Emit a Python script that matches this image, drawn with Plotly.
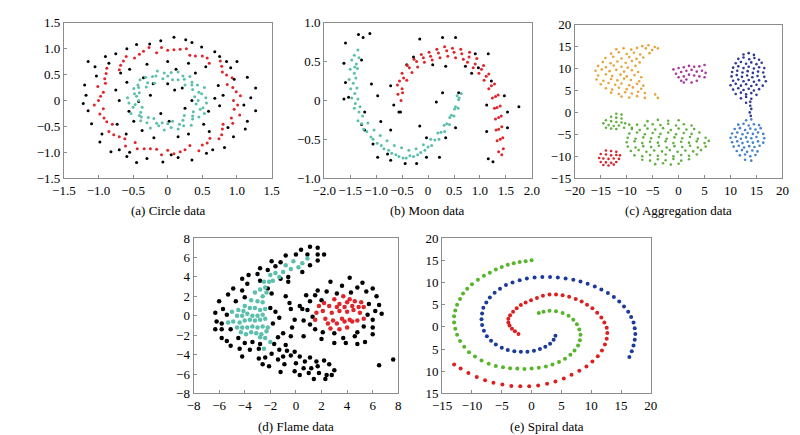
import plotly.graph_objects as go

# ---------------- (a) circle data ----------------
circle_inner = [
    (0.44, 0.00), (0.55, 0.05), (0.39, 0.07), (0.49, 0.13), (0.45, 0.16), (0.53, 0.25),
    (0.36, 0.21), (0.43, 0.30), (0.35, 0.30), (0.35, 0.35), (0.25, 0.30), (0.32, 0.46),
    (0.24, 0.41), (0.22, 0.47), (0.15, 0.40), (0.15, 0.55), (0.07, 0.40), (0.05, 0.54),
    (0.00, 0.47), (-0.05, 0.53), (-0.07, 0.42), (-0.15, 0.57), (-0.17, 0.47), (-0.22, 0.46),
    (-0.19, 0.33), (-0.32, 0.45), (-0.29, 0.34), (-0.40, 0.40), (-0.31, 0.26), (-0.43, 0.30),
    (-0.42, 0.25), (-0.49, 0.23), (-0.41, 0.15), (-0.48, 0.13), (-0.45, 0.08), (-0.58, 0.05),
    (-0.42, 0.00), (-0.56, -0.05), (-0.47, -0.08), (-0.50, -0.13), (-0.37, -0.13), (-0.53, -0.25),
    (-0.39, -0.23), (-0.41, -0.29), (-0.38, -0.32), (-0.39, -0.39), (-0.28, -0.33), (-0.30, -0.43),
    (-0.20, -0.35), (-0.25, -0.53), (-0.16, -0.44), (-0.13, -0.49), (-0.08, -0.43), (-0.05, -0.57),
    (0.00, -0.45), (0.05, -0.52), (0.07, -0.40), (0.15, -0.55), (0.17, -0.46), (0.23, -0.49),
    (0.22, -0.38), (0.34, -0.48), (0.24, -0.29), (0.36, -0.36), (0.36, -0.30), (0.45, -0.32),
    (0.37, -0.22), (0.53, -0.25), (0.47, -0.17), (0.51, -0.14), (0.41, -0.07), (0.56, -0.05),
]
circle_outer = [
    (0.95, 0.00), (1.05, 0.09), (0.99, 0.17), (0.94, 0.25), (0.86, 0.31), (0.93, 0.44),
    (0.85, 0.49), (0.79, 0.55), (0.78, 0.66), (0.76, 0.76), (0.60, 0.72), (0.57, 0.82),
    (0.50, 0.86), (0.40, 0.86), (0.32, 0.87), (0.27, 1.00), (0.18, 0.99), (0.09, 0.98),
    (0.00, 0.97), (-0.09, 1.02), (-0.16, 0.92), (-0.27, 1.02), (-0.35, 0.95), (-0.41, 0.89),
    (-0.48, 0.82), (-0.60, 0.85), (-0.64, 0.76), (-0.68, 0.68), (-0.70, 0.59), (-0.88, 0.62),
    (-0.89, 0.52), (-0.91, 0.42), (-0.90, 0.33), (-1.01, 0.27), (-0.93, 0.16), (-0.97, 0.08),
    (-1.00, 0.00), (-1.06, -0.09), (-0.93, -0.16), (-0.98, -0.26), (-0.92, -0.34), (-0.88, -0.41),
    (-0.80, -0.46), (-0.85, -0.60), (-0.78, -0.66), (-0.70, -0.70), (-0.62, -0.74), (-0.61, -0.88),
    (-0.47, -0.81), (-0.44, -0.93), (-0.34, -0.93), (-0.25, -0.93), (-0.16, -0.94), (-0.09, -1.05),
    (0.00, -0.96), (0.09, -1.03), (0.18, -0.99), (0.25, -0.95), (0.32, -0.87), (0.45, -0.97),
    (0.50, -0.86), (0.57, -0.82), (0.61, -0.73), (0.74, -0.74), (0.78, -0.66), (0.79, -0.55),
    (0.80, -0.46), (0.94, -0.44), (0.92, -0.34), (1.04, -0.28), (0.96, -0.17), (1.01, -0.09),
]
circle_noise = [
    (-1.15, 0.75), (-1.22, -0.06), (1.27, 0.24), (1.27, -0.20), (0.26, 1.17), (0.09, 1.22),
    (-0.98, -0.80), (-0.82, -0.99), (-0.45, -1.20), (-0.07, -1.19), (0.82, -0.91), (0.91, 0.63),
    (1.15, -0.40), (-1.15, -0.20), (-1.03, 0.47), (-0.59, 1.00), (-0.26, 1.09), (0.49, 1.03),
    (0.68, 0.94), (-0.59, -1.08), (0.56, -1.02), (1.10, -0.09), (-0.21, 0.32), (0.00, 0.32),
    (0.21, 0.24), (-0.42, -0.02), (-0.56, -0.21), (-0.59, 0.35), (-0.35, 0.44), (0.68, 0.04),
    (0.59, -0.21), (0.73, 0.29), (-0.37, -0.58), (0.30, -0.65), (0.02, -0.40), (-0.49, -0.40),
    (0.52, -0.46), (0.12, 0.60), (0.40, 0.53), (-0.73, -0.46), (-0.68, 0.53), (0.87, -0.52),
    (0.96, 0.41), (-0.90, 0.85), (-1.05, 0.65), (-1.20, 0.30), (-1.10, -0.45), (-0.95, -0.65),
    (-0.70, -0.95), (-0.30, -1.12), (0.15, -1.10), (0.35, -1.15), (0.65, -0.95), (0.95, -0.70),
    (1.12, -0.55), (1.20, 0.05), (1.15, 0.45), (1.00, 0.75), (0.75, 0.85), (0.35, 1.12),
    (-0.10, 1.15), (-0.45, 1.08), (-0.75, 0.90), (-1.18, 0.10), (-0.85, 0.72), (0.85, 0.75),
    (-0.55, -1.00), (0.05, -1.05), (-0.70, 0.00), (-0.75, 0.20), (0.75, -0.10), (0.80, 0.10),
    (-0.30, 0.70), (0.30, 0.72), (0.00, 0.75), (-0.20, -0.72), (0.15, -0.70), (0.55, 0.65),
    (-0.55, 0.60), (0.60, -0.60), (-0.60, -0.65), (0.10, 0.20), (-0.10, -0.25), (0.25, -0.15),
    (-0.25, 0.10), (0.35, 0.00),
]

# ---------------- (b) moon data ----------------
moon_lower = [
    (-1.35, 0.65), (-1.42, 0.58), (-1.33, 0.55), (-1.47, 0.52), (-1.38, 0.47), (-1.41, 0.43),
    (-1.50, 0.40), (-1.42, 0.35), (-1.36, 0.41), (-1.52, 0.27), (-1.44, 0.22), (-1.39, 0.29),
    (-1.49, 0.15), (-1.41, 0.09), (-1.37, 0.16), (-1.47, 0.03), (-1.40, -0.04), (-1.35, 0.02),
    (-1.42, -0.10), (-1.33, -0.15), (-1.31, -0.08), (-1.35, -0.26), (-1.26, -0.20), (-1.28, -0.30),
    (-1.24, -0.37), (-1.16, -0.29), (-1.18, -0.40), (-1.10, -0.47), (-1.04, -0.38), (-1.06, -0.50),
    (-0.98, -0.55), (-0.92, -0.45), (-0.90, -0.58), (-0.85, -0.62), (-0.79, -0.52), (-0.76, -0.64),
    (-0.70, -0.68), (-0.65, -0.58), (-0.62, -0.70), (-0.56, -0.72), (-0.51, -0.61), (-0.48, -0.74),
    (-0.42, -0.74), (-0.37, -0.64), (-0.35, -0.71), (-0.28, -0.72), (-0.23, -0.62), (-0.20, -0.70),
    (-0.14, -0.67), (-0.09, -0.57), (-0.06, -0.64), (0.00, -0.60), (0.05, -0.50), (0.07, -0.58),
    (0.13, -0.51), (0.19, -0.42), (0.21, -0.50), (0.25, -0.41), (0.31, -0.32), (0.32, -0.40),
    (0.36, -0.30), (0.42, -0.22), (0.41, -0.31), (0.45, -0.19), (0.51, -0.11), (0.50, -0.20),
    (0.53, -0.08), (0.59, 0.01), (0.58, -0.10), (0.60, 0.03), (0.64, 0.09), (0.56, 0.06),
]
moon_upper = [
    (-0.52, 0.00), (-0.58, 0.08), (-0.49, 0.10), (-0.59, 0.20), (-0.50, 0.15), (-0.55, 0.25),
    (-0.50, 0.35), (-0.41, 0.26), (-0.47, 0.29), (-0.40, 0.45), (-0.31, 0.36), (-0.36, 0.42),
    (-0.27, 0.53), (-0.20, 0.43), (-0.22, 0.50), (-0.13, 0.59), (-0.07, 0.49), (-0.09, 0.55),
    (0.02, 0.62), (0.08, 0.52), (0.05, 0.57), (0.17, 0.66), (0.23, 0.55), (0.20, 0.61),
    (0.32, 0.69), (0.38, 0.57), (0.36, 0.64), (0.47, 0.67), (0.53, 0.55), (0.50, 0.62),
    (0.63, 0.66), (0.68, 0.53), (0.65, 0.60), (0.80, 0.62), (0.76, 0.49), (0.79, 0.56),
    (0.94, 0.54), (0.87, 0.42), (0.91, 0.47), (1.07, 0.45), (0.98, 0.35), (1.03, 0.40),
    (1.17, 0.34), (1.08, 0.26), (1.12, 0.31), (1.28, 0.21), (1.17, 0.15), (1.22, 0.19),
    (1.35, 0.07), (1.24, 0.03), (1.30, 0.05), (1.39, -0.07), (1.28, -0.10), (1.33, -0.09),
    (1.41, -0.20), (1.30, -0.24), (1.36, -0.22), (1.42, -0.34), (1.31, -0.38), (1.36, -0.37),
    (1.44, -0.48), (1.33, -0.52), (1.39, -0.50), (1.45, -0.62), (1.36, -0.66), (1.42, -0.70),
]
moon_noise = [
    (-1.59, 0.74), (-1.34, 0.85), (-1.12, 0.86), (-1.25, 0.81), (-1.62, 0.48), (-1.59, 0.23),
    (-1.62, 0.02), (-1.53, 0.04), (-1.28, -0.31), (-1.22, -0.38), (-1.09, 0.21), (-0.97, 0.06),
    (-0.91, -0.27), (-0.72, -0.38), (-0.97, -0.73), (-0.72, -0.77), (-0.44, -0.81), (-0.22, -0.81),
    (-0.03, -0.73), (0.22, -0.73), (0.34, -0.48), (0.53, -0.35), (0.59, 0.10), (0.28, 0.10),
    (0.16, -0.02), (-0.72, 0.19), (-0.66, -0.06), (-0.53, -0.15), (-0.41, 0.46), (-0.28, 0.56),
    (-0.16, 0.79), (0.28, 0.81), (0.53, 0.81), (0.91, 0.60), (1.16, 0.60), (0.97, 0.42),
    (0.84, 0.35), (0.34, 0.44), (1.22, 0.25), (1.47, 0.06), (1.13, -0.06), (1.53, -0.15),
    (1.53, -0.35), (1.13, -0.40), (1.16, -0.75), (1.25, -0.79), (1.75, -0.08), (0.72, 0.44),
    (0.09, 0.46), (-0.56, -0.15), (-0.16, -0.33), (-0.03, -0.48), (-1.22, -0.15), (-1.28, 0.52),
    (-1.06, -0.56), (-0.78, -0.69),
]

# ---------------- (c) aggregation data ----------------
agg_orange = [
    (-7.0, 15.1), (-5.8, 15.3), (-4.6, 14.9), (-6.3, 14.6),
    (-12.0, 14.4), (-10.6, 14.6), (-9.1, 14.3), (-8.0, 14.7), (-5.1, 14.2), (-4.0, 14.6),
    (-13.0, 13.4), (-11.5, 13.7), (-10.0, 13.3), (-8.6, 13.6), (-7.4, 13.2), (-5.6, 13.5),
    (-14.1, 12.4), (-12.6, 12.7), (-11.0, 12.3), (-9.5, 12.6), (-8.1, 12.2), (-6.8, 12.5),
    (-14.6, 11.5), (-13.1, 11.2), (-11.8, 11.6), (-10.2, 11.3), (-9.0, 11.7), (-7.5, 11.4),
    (-15.5, 10.6), (-14.0, 10.3), (-12.5, 10.7), (-11.0, 10.4), (-9.8, 10.2), (-8.3, 10.6),
    (-16.0, 9.5), (-14.8, 9.8), (-13.3, 9.4), (-12.0, 9.7), (-10.5, 9.3), (-9.0, 9.6), (-7.8, 9.2),
    (-15.5, 8.4), (-14.0, 8.7), (-12.8, 8.3), (-11.2, 8.6), (-10.0, 8.2), (-8.5, 8.5), (-7.2, 8.0),
    (-15.8, 7.5), (-14.5, 7.2), (-13.0, 7.6), (-11.8, 7.3), (-10.5, 7.7), (-9.2, 7.4), (-7.6, 7.1),
    (-15.0, 6.4), (-13.5, 6.7), (-12.2, 6.3), (-11.0, 6.6), (-9.5, 6.2), (-8.0, 6.5), (-6.8, 6.1),
    (-14.0, 5.5), (-12.8, 5.2), (-11.5, 5.6), (-10.0, 5.3), (-8.8, 5.7), (-7.2, 5.4),
    (-13.0, 4.5), (-11.5, 4.2), (-10.3, 4.6), (-9.0, 4.3), (-7.8, 4.7), (-6.5, 4.4), (-4.5, 4.1),
    (-11.0, 3.6), (-9.5, 3.4), (-8.0, 3.7), (-6.5, 3.3), (-4.0, 3.3),
]
agg_purple = [
    (-1.0, 9.8), (0.0, 10.1), (1.0, 10.3), (2.0, 10.6), (3.0, 10.4), (4.0, 10.5), (5.0, 10.8),
    (-0.5, 8.8), (0.5, 9.2), (1.5, 9.5), (2.5, 9.7), (3.5, 9.3), (4.5, 9.5), (5.2, 9.0),
    (0.0, 8.0), (1.0, 8.2), (2.0, 8.6), (3.0, 8.4), (4.0, 8.2), (5.0, 8.0),
    (0.5, 7.2), (1.5, 7.5), (2.5, 6.8), (3.5, 7.2), (1.0, 6.8),
]
agg_navy = [
    (12.5, 13.2), (13.5, 13.5), (14.5, 13.1),
    (11.5, 12.2), (12.5, 12.5), (13.6, 12.1), (14.6, 12.4), (15.5, 12.0),
    (11.0, 11.2), (12.0, 11.5), (13.0, 11.1), (14.0, 11.4), (15.0, 11.0), (16.0, 11.3),
    (10.5, 10.2), (11.5, 10.5), (12.5, 10.1), (13.5, 10.4), (14.5, 10.0), (15.5, 10.3), (16.5, 10.1),
    (10.3, 9.2), (11.3, 9.5), (12.3, 9.1), (13.3, 9.4), (14.3, 9.0), (15.3, 9.3), (16.3, 9.1),
    (10.2, 8.2), (11.2, 8.5), (12.2, 8.1), (13.2, 8.4), (14.2, 8.0), (15.2, 8.3), (16.5, 8.1),
    (10.5, 7.2), (11.5, 7.5), (12.5, 7.1), (13.5, 7.4), (14.5, 7.0), (15.5, 7.3), (16.8, 7.1),
    (10.0, 6.2), (11.0, 6.5), (12.0, 6.1), (13.0, 6.4), (14.0, 6.0), (15.0, 6.3), (16.2, 6.1),
    (10.5, 5.2), (11.5, 5.5), (12.5, 5.1), (13.5, 5.4), (14.5, 5.0), (15.5, 5.3),
    (11.0, 4.2), (12.0, 4.5), (13.0, 4.1), (14.0, 4.4), (15.0, 4.0),
    (12.0, 3.2), (13.0, 3.5), (14.0, 3.1), (13.0, 2.2), (13.8, 2.4),
    (13.8, 1.5), (14.0, 0.8), (13.7, 0.0), (13.9, -0.8),
]
agg_lightblue = [
    (13.0, -1.8), (14.0, -1.6),
    (11.5, -2.8), (12.5, -2.6), (13.5, -3.0), (14.5, -2.7), (15.5, -2.9),
    (10.8, -3.8), (11.8, -3.6), (12.8, -4.0), (13.8, -3.7), (14.8, -3.9), (15.8, -3.6),
    (10.3, -4.8), (11.3, -4.6), (12.3, -5.0), (13.3, -4.7), (14.3, -4.9), (15.3, -4.6), (16.3, -4.9),
    (10.0, -5.8), (11.0, -5.6), (12.0, -6.0), (13.0, -5.7), (14.0, -5.9), (15.0, -5.6), (16.5, -5.9),
    (10.3, -6.8), (11.3, -6.6), (12.3, -7.0), (13.3, -6.7), (14.3, -6.9), (15.3, -6.6), (16.3, -6.9),
    (10.6, -7.8), (11.6, -7.6), (12.6, -8.0), (13.6, -7.7), (14.6, -7.9), (15.6, -7.6),
    (11.2, -8.8), (12.2, -8.6), (13.2, -9.0), (14.2, -8.7), (15.2, -8.9),
    (11.8, -9.8), (12.8, -9.6), (13.8, -10.0), (14.8, -9.7),
    (12.8, -10.8), (14.0, -11.0),
]
agg_green_small = [
    (-12.0, -0.3), (-11.0, -0.5), (-13.0, -1.0), (-12.0, -1.2), (-11.0, -1.4), (-14.0, -1.8),
    (-13.0, -2.0), (-12.0, -2.2), (-11.0, -2.3), (-10.3, -2.5), (-14.5, -2.5), (-13.5, -2.9),
    (-12.5, -3.1), (-11.5, -3.0), (-13.0, -3.7), (-12.0, -3.8), (-14.0, -3.5), (-10.5, -3.5),
    (-9.5, -2.8), (-9.0, -3.5),
]
agg_green_big = [
    (-4.0, -1.7), (-2.0, -1.9), (0.0, -1.8), (-6.0, -2.0),
    (-8.0, -2.8), (-6.5, -3.0), (-5.0, -2.7), (-3.5, -2.9), (-2.0, -2.6), (-0.5, -3.0), (1.0, -2.7), (2.5, -3.0),
    (-9.0, -3.8), (-7.5, -4.0), (-6.0, -3.7), (-4.5, -3.9), (-3.0, -3.6), (-1.5, -4.0), (0.0, -3.7), (1.5, -3.9), (3.0, -3.8),
    (-9.5, -4.8), (-8.0, -4.6), (-6.5, -5.0), (-5.0, -4.7), (-3.5, -4.9), (-2.0, -4.6), (-0.5, -5.0), (1.0, -4.7), (2.5, -4.9), (4.0, -4.6),
    (-9.8, -5.8), (-8.3, -6.0), (-6.8, -5.7), (-5.3, -5.9), (-3.8, -5.6), (-2.3, -6.0), (-0.8, -5.7), (0.7, -5.9), (2.2, -5.6), (3.7, -6.0), (5.2, -5.8),
    (-10.0, -6.8), (-8.5, -6.6), (-7.0, -7.0), (-5.5, -6.7), (-4.0, -6.9), (-2.5, -6.6), (-1.0, -7.0), (0.5, -6.7), (2.0, -6.9), (3.5, -6.6), (5.0, -7.0), (5.8, -6.5),
    (-9.8, -7.8), (-8.3, -8.0), (-6.8, -7.7), (-5.3, -7.9), (-3.8, -7.6), (-2.3, -8.0), (-0.8, -7.7), (0.7, -7.9), (2.2, -7.6), (3.7, -8.0), (5.2, -7.8),
    (-9.2, -8.8), (-7.7, -8.6), (-6.2, -9.0), (-4.7, -8.7), (-3.2, -8.9), (-1.7, -8.6), (-0.2, -9.0), (1.3, -8.7), (2.8, -8.9), (4.3, -8.6),
    (-8.5, -9.8), (-7.0, -10.0), (-5.5, -9.7), (-4.0, -9.9), (-2.5, -9.6), (-1.0, -10.0), (0.5, -9.7), (2.0, -9.9), (3.5, -9.6),
    (-7.0, -10.8), (-5.5, -11.0), (-4.0, -10.7), (-2.5, -10.9), (-1.0, -10.6), (0.5, -11.0), (2.0, -10.7),
    (-4.5, -11.8), (-3.0, -11.6), (-1.5, -11.9), (0.0, -11.7),
]
agg_red = [
    (-14.0, -8.7), (-13.0, -8.8), (-12.0, -9.0), (-15.0, -9.5), (-14.0, -9.6), (-13.0, -9.8),
    (-12.0, -9.7), (-11.3, -9.8), (-15.3, -10.4), (-14.5, -10.5), (-13.5, -10.6), (-12.5, -10.5),
    (-11.5, -10.6), (-15.0, -11.3), (-14.0, -11.4), (-13.0, -11.5), (-12.0, -11.3), (-14.5, -12.0),
    (-13.5, -12.1), (-12.5, -11.9),
]

# ---------------- (d) flame data ----------------
flame_teal = [
    (0.9, 5.9), (0.5, 5.4), (0.2, 5.0), (-0.2, 5.6), (-0.4, 4.8), (-0.8, 5.2), (-1.0, 4.5),
    (-1.3, 4.0), (-1.6, 4.4), (-2.0, 4.2), (-1.8, 3.6), (-2.1, 3.5), (-2.5, 3.5), (-2.4, 2.9),
    (-2.8, 2.7), (-2.3, 2.4), (-2.6, 2.0), (-3.2, 2.4), (-3.5, 1.6), (-3.0, 1.5), (-2.6, 1.4),
    (-4.0, 1.0), (-3.6, 0.8), (-3.2, 0.8), (-2.8, 0.6), (-2.4, 0.7), (-4.5, 0.6), (-4.1, 0.5),
    (-5.0, 0.4), (-4.6, 0.0), (-4.2, 0.0), (-3.8, 0.2), (-3.4, 0.0), (-3.0, 0.0), (-2.6, 0.1),
    (-5.3, -0.7), (-4.9, -0.6), (-4.4, -0.7), (-4.0, -0.5), (-3.6, -0.4), (-3.2, -0.5),
    (-2.8, -0.4), (-2.4, -0.3), (-4.6, -1.2), (-4.2, -1.2), (-3.8, -1.2), (-3.4, -1.1),
    (-3.0, -1.2), (-2.6, -1.1), (-2.2, -1.2), (-4.3, -1.7), (-3.9, -1.9), (-3.5, -1.7),
    (-3.1, -1.8), (-2.7, -1.9), (-2.3, -1.6), (-2.8, -2.2), (-2.4, -2.3), (-2.0, -2.7), (-2.5, -3.4),
]
flame_red = [
    (3.7, 2.0), (4.2, 1.7), (3.0, 1.7), (2.2, 1.3), (3.4, 1.2), (4.0, 1.4), (4.6, 1.5), (5.1, 1.4),
    (1.8, 1.0), (2.6, 1.0), (3.2, 0.9), (3.8, 0.9), (4.4, 1.0), (4.9, 0.9), (5.3, 0.9), (2.1, 0.5),
    (2.8, 0.3), (3.4, 0.5), (4.0, 0.4), (4.5, 0.6), (5.0, 0.3), (1.6, 0.3), (1.5, -0.4), (2.3, -0.3),
    (2.9, -0.5), (3.6, -0.3), (4.2, -0.4), (4.8, -0.5), (5.3, -0.3), (2.5, -0.8), (3.2, -0.8),
    (3.8, -0.6), (4.4, -0.6), (2.7, -1.3), (3.4, -1.4), (4.0, -1.2),
]
flame_noise = [
    (1.1, 7.1), (1.7, 7.0), (0.4, 6.8), (0.9, 6.3), (1.7, 6.3), (2.2, 6.3), (0.0, 6.3), (-0.8, 6.2),
    (1.7, 5.7), (-1.9, 5.6), (-1.2, 5.5), (1.1, 5.2), (-1.6, 5.1), (-2.8, 4.9), (-2.2, 4.7),
    (0.5, 4.5), (-3.0, 4.3), (-3.7, 4.2), (-1.2, 3.8), (-0.6, 4.0), (-4.2, 3.8), (-3.8, 3.3),
    (-2.8, 3.6), (-0.6, 3.5), (-4.9, 2.8), (-4.2, 2.6), (-2.2, 2.8), (-1.9, 2.3), (-5.3, 2.2),
    (-4.0, 1.9), (-0.8, 2.0), (0.8, 2.1), (-6.0, 1.5), (-4.7, 1.5), (-0.5, 1.3), (0.3, 1.0),
    (1.1, 1.5), (-5.7, 0.7), (-6.3, 0.3), (-5.4, 0.1), (-2.0, 0.8), (-1.6, 0.4), (-0.4, 0.7),
    (0.5, 0.7), (0.9, 0.6), (-6.2, -0.6), (-5.8, -0.8), (-1.3, -0.2), (-0.1, -0.4), (0.6, -0.5),
    (1.1, -0.9), (-6.3, -1.4), (-5.8, -1.4), (-5.1, -1.4), (-1.8, -0.8), (-0.3, -1.2), (-1.0, -1.8),
    (0.6, -2.1), (-0.4, -2.1), (-5.8, -2.3), (-5.4, -2.6), (-4.5, -2.3), (-1.4, -2.2), (-5.1, -3.1),
    (-4.0, -2.8), (-3.4, -2.7), (-2.8, -2.9), (-1.7, -2.9), (-0.8, -3.0), (-4.4, -3.4), (-3.6, -3.5),
    (-2.9, -3.4), (-1.3, -3.5), (-0.7, -3.6), (-0.1, -3.7), (-1.9, -3.9), (-1.0, -4.2), (-0.4, -4.1),
    (-4.2, -4.2), (-2.9, -4.4), (-2.4, -4.3), (-1.4, -4.5), (0.3, -4.2), (1.1, -4.3), (-2.6, -5.0),
    (-2.1, -5.2), (-0.9, -5.0), (0.0, -4.9), (0.7, -4.7), (1.6, -4.7), (2.2, -4.6), (-1.2, -5.8),
    (-0.1, -5.7), (0.6, -5.4), (1.2, -5.4), (1.7, -5.2), (2.6, -5.0), (0.3, -6.1), (1.0, -5.9),
    (1.8, -5.9), (2.4, -6.1), (3.0, -5.6), (2.8, -6.1), (1.4, -6.5), (2.3, -6.5),
    (4.2, 3.9), (5.2, 3.4), (2.7, 3.5), (3.6, 3.1), (4.8, 2.9), (6.0, 2.8), (1.7, 2.6), (2.4, 2.5),
    (4.3, 2.4), (5.5, 2.5), (3.2, 2.3), (1.5, 2.1), (6.3, 2.0), (2.0, 1.6), (5.7, 1.2), (6.5, 1.1),
    (6.2, 0.5), (5.6, 0.1), (6.7, 0.2), (1.3, -0.1), (6.0, -0.4), (1.5, -1.4), (2.1, -1.7),
    (5.3, -1.1), (6.0, -1.2), (3.0, -1.8), (4.8, -1.7), (3.7, -2.3), (4.6, -2.1), (6.0, -1.9),
    (2.0, -2.4), (3.0, -2.8), (3.9, -2.8), (4.8, -2.9), (5.4, -2.7), (6.5, -5.1), (7.6, -4.5),
]

# ---------------- (e) spiral data ----------------
spiral_green = [
    (0.0, 15.0), (-1.0, 14.8), (-2.0, 14.6), (-3.0, 14.3), (-4.0, 14.0), (-5.0, 13.5), (-6.0, 12.9),
    (-7.0, 12.2), (-8.0, 11.5), (-9.0, 10.6), (-10.0, 9.6), (-10.8, 8.6), (-11.5, 7.5), (-12.0, 6.3),
    (-12.5, 5.0), (-12.8, 3.7), (-13.0, 2.4), (-13.0, 1.0), (-12.8, -0.4), (-12.5, -1.8),
    (-12.0, -3.2), (-11.3, -4.5), (-10.5, -5.7), (-9.5, -6.7), (-8.4, -7.6), (-7.2, -8.3),
    (-6.0, -8.8), (-4.8, -9.1), (-3.6, -9.3), (-2.4, -9.4), (-1.2, -9.5), (0.0, -9.4), (1.2, -9.2),
    (2.4, -8.9), (3.5, -8.5), (4.6, -7.9), (5.6, -7.2), (6.5, -6.3), (7.2, -5.3), (7.8, -4.2),
    (8.1, -3.0), (8.2, -1.8), (8.0, -0.6), (7.6, 0.6), (7.0, 1.6), (6.2, 2.5), (5.2, 3.1),
    (4.1, 3.5), (3.0, 3.6), (2.0, 3.4), (1.2, 3.1),
]
spiral_blue = [
    (16.4, -6.8), (16.8, -5.5), (17.1, -4.2), (17.3, -2.9), (17.4, -1.6), (17.3, -0.3), (17.1, 1.0),
    (16.7, 2.2), (16.2, 3.4), (15.5, 4.6), (14.7, 5.7), (13.8, 6.7), (12.8, 7.6), (11.7, 8.4),
    (10.6, 9.1), (9.4, 9.7), (8.2, 10.2), (7.0, 10.6), (5.7, 10.9), (4.4, 11.1), (3.1, 11.2),
    (1.8, 11.2), (0.5, 11.1), (-0.8, 10.9), (-2.0, 10.5), (-3.2, 10.0), (-4.3, 9.4), (-5.3, 8.6),
    (-6.2, 7.7), (-7.0, 6.6), (-7.6, 5.5), (-8.1, 4.3), (-8.3, 3.0), (-8.4, 1.7), (-8.3, 0.4),
    (-8.0, -0.9), (-7.5, -2.1), (-6.8, -3.1), (-6.0, -4.0), (-5.0, -4.7), (-4.0, -5.2), (-2.9, -5.5),
    (-1.8, -5.6), (-0.7, -5.6), (0.4, -5.4), (1.4, -5.0), (2.3, -4.5), (3.1, -3.8), (3.7, -2.9),
    (4.0, -2.0),
]
spiral_red = [
    (-2.2, -1.6), (-2.8, -1.0), (-3.3, -0.4), (-3.7, 0.3), (-3.9, 1.0), (-3.9, 1.8), (-3.6, 2.6),
    (-3.1, 3.4), (-2.5, 4.2), (-1.8, 4.9), (-1.0, 5.5), (-0.1, 6.0), (0.9, 6.5), (1.9, 7.0),
    (3.0, 7.3), (4.1, 7.3), (5.2, 7.1), (6.3, 6.8), (7.4, 6.3), (8.4, 5.7), (9.3, 5.0), (10.2, 4.2),
    (11.0, 3.2), (11.7, 2.1), (12.2, 1.0), (12.6, -0.2), (12.7, -1.4), (12.6, -2.7), (12.3, -4.0),
    (11.8, -5.3), (11.1, -6.6), (10.2, -7.8), (9.2, -8.9), (8.0, -9.9), (6.7, -10.8), (5.4, -11.6),
    (4.0, -12.3), (2.6, -12.8), (1.1, -13.2), (-0.4, -13.4), (-1.9, -13.4), (-3.4, -13.3),
    (-4.9, -13.0), (-6.4, -12.6), (-7.8, -12.0), (-9.2, -11.3), (-10.6, -10.4), (-11.9, -9.4),
    (-13.0, -8.5),
]

spiral_y_ticks = [-15, -10, -5, 0, 5, 10, 15, 20]
spiral_y_text = ["15", "10", "5", "0", "5", "10", "15", "20"]

TEAL = "#5BBFAE"
RED = "#E0262B"
FONT = "Liberation Serif"

fig = go.Figure()


def add_points(points, color, size, axis_id):
    xs = [p[0] for p in points]
    ys = [p[1] for p in points]
    suffix = "" if axis_id == 1 else str(axis_id)
    fig.add_trace(
        go.Scatter(
            x=xs,
            y=ys,
            mode="markers",
            marker=dict(color=color, size=size, line=dict(width=0)),
            xaxis="x" + suffix,
            yaxis="y" + suffix,
            showlegend=False,
            hoverinfo="skip",
        )
    )


add_points(circle_noise, "black", 3, 1)
add_points(circle_outer, RED, 3, 1)
add_points(circle_inner, TEAL, 3, 1)

add_points(moon_noise, "black", 3, 2)
add_points(moon_upper, RED, 3, 2)
add_points(moon_lower, TEAL, 3, 2)

add_points(agg_orange, "#E8A33A", 2.6, 3)
add_points(agg_purple, "#A8399E", 2.6, 3)
add_points(agg_navy, "#2E3896", 2.6, 3)
add_points(agg_lightblue, "#4581CC", 2.6, 3)
add_points(agg_green_small, "#62B043", 2.6, 3)
add_points(agg_green_big, "#62B043", 2.6, 3)
add_points(agg_red, "#D8272B", 2.6, 3)

add_points(flame_noise, "black", 4.5, 4)
add_points(flame_teal, TEAL, 4.5, 4)
add_points(flame_red, RED, 4.5, 4)

add_points(spiral_green, "#56B52A", 4, 5)
add_points(spiral_blue, "#1B3A9B", 4, 5)
add_points(spiral_red, "#DC1F1F", 4, 5)


def axis(domain, rng, tickvals, ticktext=None, anchor=None):
    d = dict(
        domain=domain,
        range=rng,
        tickvals=tickvals,
        showline=True,
        mirror=True,
        linecolor="#8c8c8c",
        linewidth=1,
        ticks="inside",
        ticklen=3,
        tickcolor="#8c8c8c",
        showgrid=False,
        zeroline=False,
        tickfont=dict(family=FONT, size=13, color="black"),
        anchor=anchor,
    )
    if ticktext is not None:
        d["ticktext"] = ticktext
    return d


H = 435.0
W = 800.0
top_y = [1 - 169 / H, 1 - 8 / H]
bot_y = [1 - 392 / H, 1 - 231 / H]

fig.update_layout(
    width=800,
    height=435,
    margin=dict(l=0, r=0, t=0, b=0),
    paper_bgcolor="white",
    plot_bgcolor="white",
    xaxis=axis([45 / W, 258 / W], [-1.5, 1.5], [-1.5, -1, -0.5, 0, 0.5, 1, 1.5],
               ["−1.5", "−1.0", "−0.5", "0", "0.5", "1.0", "1.5"], "y"),
    yaxis=axis(top_y, [-1.5, 1.5], [-1.5, -1, -0.5, 0, 0.5, 1, 1.5],
               ["−1.5", "−1.0", "−0.5", "0", "0.5", "1.0", "1.5"], "x"),
    xaxis2=axis([312 / W, 525 / W], [-2, 2], [-2, -1.5, -1, -0.5, 0, 0.5, 1, 1.5, 2],
                ["−2.0", "−1.5", "−1.0", "−0.5", "0", "0.5", "1.0", "1.5", "2.0"], "y2"),
    yaxis2=axis(top_y, [-1, 1], [-1, -0.5, 0, 0.5, 1],
                ["−1.0", "−0.5", "0", "0.5", "1.0"], "x2"),
    xaxis3=axis([569 / W, 782 / W], [-20, 20], [-20, -15, -10, -5, 0, 5, 10, 15, 20], None, "y3"),
    yaxis3=axis([1 - 169 / H, 1 - 10 / H], [-15, 20], [-15, -10, -5, 0, 5, 10, 15, 20], None, "x3"),
    xaxis4=axis([178 / W, 388 / W], [-8, 8], [-8, -6, -4, -2, 0, 2, 4, 6, 8], None, "y4"),
    yaxis4=axis(bot_y, [-8, 8], [-8, -6, -4, -2, 0, 2, 4, 6, 8], None, "x4"),
    xaxis5=axis([433 / W, 647 / W], [-15, 20], [-15, -10, -5, 0, 5, 10, 15, 20], None, "y5"),
    yaxis5=axis(bot_y, [-15, 20], spiral_y_ticks, spiral_y_text, "x5"),
)

captions = [
    ("(a) Circle data", 152 / W, 1 - 202 / H),
    ("(b) Moon data", 418 / W, 1 - 202 / H),
    ("(c) Aggregation data", 675 / W, 1 - 202 / H),
    ("(d) Flame data", 283 / W, 1 - 426 / H),
    ("(e) Spiral data", 540 / W, 1 - 426 / H),
]
for text, cx, cy in captions:
    fig.add_annotation(
        text=text, x=cx, y=cy, xref="paper", yref="paper",
        showarrow=False, xanchor="center", yanchor="middle",
        font=dict(family=FONT, size=13, color="black"),
    )

fig.write_html("out.html")
